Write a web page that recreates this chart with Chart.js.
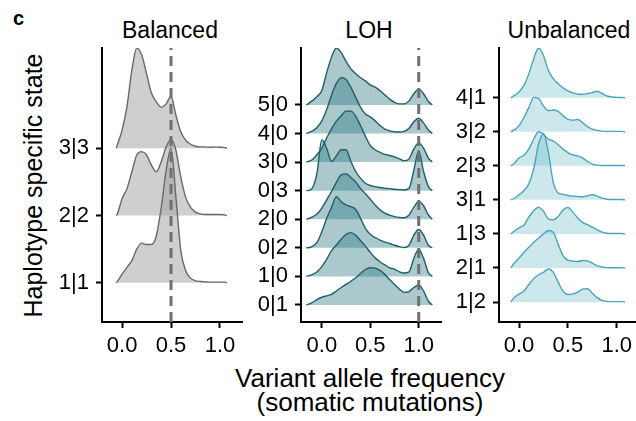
<!DOCTYPE html>
<html>
<head>
<meta charset="utf-8">
<script src="https://cdn.jsdelivr.net/npm/chart.js@4.4.1/dist/chart.umd.min.js"></script>
<style>
html,body{margin:0;padding:0;background:#fff;overflow:hidden;width:636px;height:421px;}
body{position:relative;font-family:"Liberation Sans",Arial,Helvetica,sans-serif;color:#000;}
.t{position:absolute;white-space:nowrap;text-align:center;}
canvas{position:absolute;top:0;}
</style>
</head>
<body>
<div class="t" style="left:13px;top:8px;font-size:20px;line-height:20px;font-weight:bold;text-align:left">c</div>
<div class="t" style="left:-117px;top:173px;width:300px;font-size:25px;line-height:25px;transform:rotate(-90deg)">Haplotype specific state</div>
<div class="t" style="left:110px;top:19px;width:120px;font-size:23px;line-height:23px">Balanced</div>
<div class="t" style="left:309px;top:19px;width:120px;font-size:23px;line-height:23px">LOH</div>
<div class="t" style="left:499px;top:19px;width:140px;font-size:23px;line-height:23px">Unbalanced</div>
<div class="t" style="left:170px;top:366px;width:400px;font-size:26px;line-height:24px">Variant allele frequency<br>(somatic mutations)</div>

<canvas id="balanced" width="215" height="360" style="left:40px"></canvas>
<canvas id="loh" width="210" height="360" style="left:245px"></canvas>
<canvas id="unbalanced" width="200" height="360" style="left:445px"></canvas>

<script>
// ================== Data ==================
const X_TICKS = [0, 0.5, 1];
const X_TICK_LABELS = ['0.0', '0.5', '1.0'];

// Balanced (rows bottom -> top)
const balancedStates = ['1|1', '2|2', '3|3'];
const balancedX = [-0.06, -0.05, 0, 0.05, 0.1, 0.15, 0.2, 0.25, 0.3, 0.35, 0.4, 0.45, 0.5, 0.55, 0.6, 0.65, 0.7, 0.75, 0.8, 0.85, 0.9, 0.95, 1, 1.05, 1.07];
const balancedDensity = [
  [0, 0.015, 0.13, 0.23, 0.33, 0.50, 0.59, 0.57, 0.57, 0.70, 1.12, 1.67, 2.00, 1.27, 0.48, 0.18, 0.07, 0.03, 0.02, 0.015, 0.01, 0.01, 0.01, 0.01, 0],
  [0, 0.02, 0.25, 0.40, 0.65, 0.90, 0.95, 0.90, 0.75, 0.65, 0.80, 1.02, 1.13, 0.97, 0.57, 0.27, 0.12, 0.05, 0.025, 0.015, 0.015, 0.015, 0.015, 0.01, 0],
  [0, 0.045, 0.27, 0.62, 1.16, 1.49, 1.39, 1.11, 0.82, 0.69, 0.61, 0.66, 0.77, 0.49, 0.24, 0.12, 0.06, 0.03, 0.02, 0.02, 0.015, 0.02, 0.015, 0.01, 0]
];
const balancedVline = 0.5;

// LOH (rows bottom -> top)
const lohStates = ['0|1', '1|0', '0|2', '2|0', '0|3', '3|0', '4|0', '5|0'];
const lohX = [-0.16, -0.15, -0.1, -0.05, 0, 0.05, 0.1, 0.15, 0.2, 0.25, 0.3, 0.35, 0.4, 0.45, 0.5, 0.55, 0.6, 0.65, 0.7, 0.75, 0.8, 0.85, 0.9, 0.95, 1, 1.05, 1.1, 1.14];
const lohDensity = [
  [0, 0.01, 0.08, 0.19, 0.27, 0.32, 0.37, 0.49, 0.61, 0.72, 0.83, 0.95, 1.10, 1.24, 1.30, 1.29, 1.21, 1.07, 0.89, 0.72, 0.56, 0.44, 0.47, 0.61, 0.70, 0.49, 0.13, 0],
  [0, 0.01, 0.06, 0.16, 0.34, 0.60, 0.90, 1.10, 1.30, 1.47, 1.53, 1.44, 1.25, 1.06, 0.84, 0.65, 0.51, 0.40, 0.30, 0.25, 0.16, 0.12, 0.16, 0.63, 0.95, 0.63, 0.13, 0],
  [0, 0, 0.04, 0.19, 0.56, 1.03, 1.41, 1.79, 1.61, 1.50, 1.44, 1.34, 1.03, 0.68, 0.47, 0.36, 0.27, 0.20, 0.15, 0.09, 0.04, 0.01, 0.09, 0.44, 0.64, 0.44, 0.09, 0],
  [0, 0.01, 0.07, 0.18, 0.39, 0.68, 0.97, 1.29, 1.55, 1.58, 1.46, 1.30, 1.07, 0.89, 0.70, 0.50, 0.33, 0.21, 0.14, 0.09, 0.06, 0.05, 0.15, 0.42, 0.62, 0.47, 0.15, 0],
  [0, 0, 0.08, 0.61, 1.78, 1.48, 1.02, 1.21, 1.43, 1.43, 1.02, 0.67, 0.43, 0.26, 0.18, 0.14, 0.11, 0.08, 0.07, 0.05, 0.035, 0.02, 0.08, 0.72, 1.40, 0.67, 0.14, 0],
  [0, 0.01, 0.08, 0.26, 0.49, 0.84, 1.16, 1.43, 1.62, 1.78, 1.78, 1.60, 1.27, 0.90, 0.58, 0.43, 0.34, 0.27, 0.23, 0.18, 0.11, 0.04, 0.11, 0.46, 0.67, 0.49, 0.14, 0],
  [0, 0.01, 0.08, 0.21, 0.44, 0.84, 1.34, 1.75, 1.95, 1.89, 1.61, 1.26, 0.91, 0.68, 0.58, 0.44, 0.28, 0.15, 0.09, 0.06, 0.05, 0.07, 0.18, 0.41, 0.53, 0.37, 0.12, 0],
  [0, 0.02, 0.14, 0.29, 0.50, 1.13, 1.67, 1.99, 1.83, 1.52, 1.26, 1.09, 0.95, 0.84, 0.70, 0.62, 0.50, 0.35, 0.20, 0.09, 0.035, 0.035, 0.14, 0.39, 0.55, 0.39, 0.12, 0]
];
const lohVline = 1.0;

// Unbalanced (rows bottom -> top)
const unbalancedStates = ['1|2', '2|1', '1|3', '3|1', '2|3', '3|2', '4|1'];
const unbalancedX = [-0.085, -0.05, 0, 0.05, 0.1, 0.15, 0.2, 0.25, 0.3, 0.35, 0.4, 0.45, 0.5, 0.55, 0.6, 0.65, 0.7, 0.75, 0.8, 0.85, 0.9, 0.95, 1, 1.05, 1.085];
const unbalancedDensity = [
  [0, 0.13, 0.23, 0.32, 0.51, 0.68, 0.80, 0.87, 0.97, 0.88, 0.59, 0.32, 0.22, 0.23, 0.29, 0.38, 0.39, 0.26, 0.13, 0.05, 0.02, 0.01, 0.01, 0.01, 0],
  [0, 0.14, 0.29, 0.46, 0.61, 0.75, 0.88, 1.00, 1.10, 1.05, 0.70, 0.36, 0.23, 0.20, 0.19, 0.22, 0.21, 0.14, 0.07, 0.03, 0.01, 0.005, 0.005, 0.005, 0],
  [0, 0.08, 0.18, 0.26, 0.49, 0.68, 0.78, 0.67, 0.44, 0.41, 0.51, 0.70, 0.78, 0.64, 0.47, 0.34, 0.27, 0.20, 0.12, 0.05, 0.02, 0.01, 0.01, 0.01, 0],
  [0, 0.04, 0.15, 0.27, 0.47, 0.91, 1.64, 1.94, 1.40, 0.52, 0.20, 0.16, 0.13, 0.11, 0.10, 0.09, 0.12, 0.15, 0.11, 0.05, 0.02, 0.01, 0.01, 0.01, 0],
  [0, 0.07, 0.23, 0.31, 0.49, 0.78, 1.00, 0.93, 0.78, 0.73, 0.62, 0.49, 0.39, 0.32, 0.29, 0.23, 0.13, 0.05, 0.02, 0.01, 0.01, 0.01, 0.01, 0.01, 0],
  [0, 0.05, 0.18, 0.42, 0.71, 1.01, 0.98, 0.76, 0.62, 0.64, 0.60, 0.47, 0.37, 0.34, 0.36, 0.27, 0.15, 0.08, 0.04, 0.02, 0.01, 0.01, 0.01, 0.01, 0],
  [0, 0.06, 0.17, 0.36, 0.70, 1.14, 1.46, 1.24, 0.80, 0.56, 0.41, 0.29, 0.20, 0.14, 0.11, 0.10, 0.12, 0.15, 0.19, 0.12, 0.05, 0.02, 0.01, 0.005, 0]
];

// ================== Panels ==================
const FONT = '"Liberation Sans", Arial, Helvetica, sans-serif';

function ridgeSets(xs, dens, fill, line){
  return dens.map((h, i) => ({
    data: xs.map((x, j) => ({ x, y: i + 1 + h[j] })),
    fill: { value: i + 1 },
    backgroundColor: fill,
    borderColor: line,
    borderWidth: 1.4,
    pointRadius: 0,
    cubicInterpolationMode: 'monotone'
  }));
}

function makePanel(id, o){
  const sets = ridgeSets(o.xs, o.dens, o.fill, o.line);
  if(o.vline !== null){
    sets.push({
      data: [{ x: o.vline, y: o.yMin }, { x: o.vline, y: o.yMax }],
      borderColor: 'rgb(112,112,112)', borderWidth: 3, borderDash: [10, 6],
      pointRadius: 0, fill: false, order: -1
    });
  }
  const grid = { display: true, drawOnChartArea: false, drawTicks: true, tickLength: 6, tickWidth: 2, tickColor: '#000' };
  const border = { display: true, color: '#000', width: 2 };
  new Chart(document.getElementById(id), {
    type: 'line',
    data: { datasets: sets },
    options: {
      responsive: false, animation: false, devicePixelRatio: 1,
      layout: { padding: { top: 48, right: o.padR, left: 0, bottom: 0 } },
      plugins: { legend: { display: false }, tooltip: { enabled: false } },
      scales: {
        x: {
          type: 'linear', min: o.xMin, max: o.xMax,
          afterBuildTicks: s => { s.ticks = X_TICKS.map(v => ({ value: v })); },
          afterFit: s => { s.height = 38; },
          ticks: { callback: (v, i) => X_TICK_LABELS[i], color: '#000', font: { family: FONT, size: 22 }, padding: 5, maxRotation: 0, autoSkip: false },
          grid, border
        },
        y: {
          type: 'linear', min: o.yMin, max: o.yMax,
          afterBuildTicks: s => { s.ticks = o.states.map((_, i) => ({ value: i + 1 })); },
          afterFit: s => { s.width = o.yW; },
          ticks: { callback: (v, i) => o.states[i], color: '#000', font: { family: FONT, size: 22 }, padding: 7, autoSkip: false },
          grid, border
        }
      }
    }
  });
}

makePanel('balanced', {
  xs: balancedX, dens: balancedDensity, states: balancedStates, vline: balancedVline,
  fill: 'rgba(160,160,160,0.5)', line: 'rgb(105,105,105)',
  xMin: -0.205, xMax: 1.225, yMin: 0.418, yMax: 4.49, yW: 62, padR: 13
});
makePanel('loh', {
  xs: lohX, dens: lohDensity, states: lohStates, vline: lohVline,
  fill: 'rgba(45,120,130,0.4)', line: 'rgb(32,95,105)',
  xMin: -0.215, xMax: 1.23, yMin: 0.404, yMax: 9.99, yW: 56, padR: 14
});
makePanel('unbalanced', {
  xs: unbalancedX, dens: unbalancedDensity, states: unbalancedStates, vline: null,
  fill: 'rgba(90,180,195,0.3)', line: 'rgb(75,165,185)',
  xMin: -0.205, xMax: 1.228, yMin: 0.413, yMax: 8.46, yW: 54, padR: 6
});
</script>
</body>
</html>
